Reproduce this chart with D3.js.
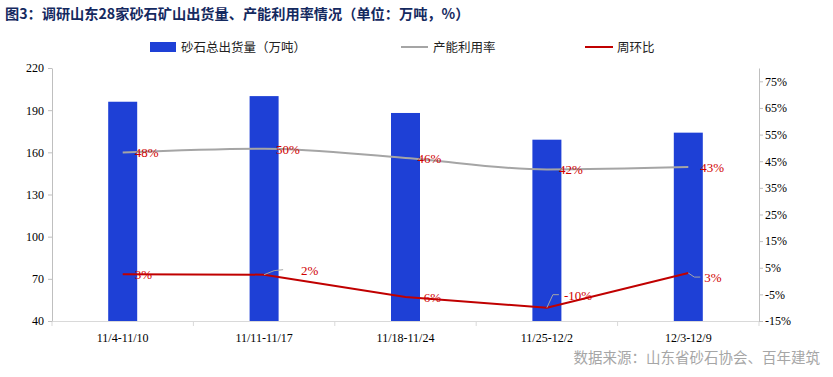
<!DOCTYPE html>
<html>
<head>
<meta charset="utf-8">
<script src="https://cdn.jsdelivr.net/npm/d3@7"></script>
<style>
  body { margin: 0; background: #fff; }
  svg { display: block; }
  .axis text { font-family: "Liberation Serif", "Times New Roman", serif; font-size: 12px; fill: #000; }
</style>
</head>
<body>
<div id="chart"></div>
<script>
// Data
const weeks = ['11/4-11/10', '11/11-11/17', '11/18-11/24', '11/25-12/2', '12/3-12/9'];
const shipments = [196, 200, 188, 169, 174];          // 万吨
const utilisation = [0.483, 0.497, 0.462, 0.419, 0.428];
const weekOnWeek = [0.026, 0.024, -0.06, -0.10, 0.03];
const leftTicks = [40, 70, 100, 130, 160, 190, 220];
const rightTicks = [-0.15, -0.05, 0.05, 0.15, 0.25, 0.35, 0.45, 0.55, 0.65, 0.75];

const width = 833;
const height = 377;
const margin = { left: 52, right: 759, top: 68, bottom: 321 };

const colors = {
  bar: '#1E40D6',
  util: '#A5A5A5',
  wow: '#C00000',
  label: '#D00000',
  axis: '#BFBFBF',
  grid: '#D9D9D9'
};

// plain hyphen for negatives, like the original
const locale = d3.formatLocale({ decimal: '.', thousands: ',', grouping: [3], currency: ['', ''], minus: '-' });
const pct = locale.format('.0%');

const svg = d3
  .select('#chart')
  .append('svg')
  .attr('width', width)
  .attr('height', height);

// Title
svg
  .append('text')
  .attr('x', 5)
  .attr('y', 19)
  .attr('font-family', '"Noto Sans CJK SC", sans-serif')
  .attr('font-weight', 'bold')
  .attr('font-size', 14.2)
  .attr('fill', '#14295F')
  .text('图3：调研山东28家砂石矿山出货量、产能利用率情况（单位：万吨，%）');

// Scales
const x = d3.scaleBand().domain(weeks).range([margin.left, margin.right]);
const yL = d3.scaleLinear().domain([40, 220]).range([margin.bottom, margin.top]);
const yR = d3.scaleLinear().domain([-0.15, 0.8]).range([margin.bottom, margin.top]);
const cx = (d) => x(d) + x.bandwidth() / 2;

// X axis
const xAxis = svg
  .append('g')
  .attr('class', 'axis')
  .attr('transform', `translate(0,${margin.bottom})`)
  .call(d3.axisBottom(x).tickSize(0).tickPadding(12));
xAxis.select('.domain').attr('stroke', colors.grid);
xAxis
  .selectAll('.sep')
  .data(d3.range(weeks.length + 1))
  .join('line')
  .attr('class', 'sep')
  .attr('x1', (i) => margin.left + i * x.step())
  .attr('x2', (i) => margin.left + i * x.step())
  .attr('y1', 0)
  .attr('y2', 5)
  .attr('stroke', colors.grid);

// Left axis
const yAxisL = svg
  .append('g')
  .attr('class', 'axis')
  .attr('transform', `translate(${margin.left},0)`)
  .call(d3.axisLeft(yL).tickValues(leftTicks).tickSize(4).tickPadding(4).tickSizeOuter(0));
yAxisL.selectAll('.domain, .tick line').attr('stroke', colors.axis);

// Right axis
const yAxisR = svg
  .append('g')
  .attr('class', 'axis')
  .attr('transform', `translate(${margin.right},0)`)
  .call(
    d3
      .axisRight(yR)
      .tickValues(rightTicks)
      .tickFormat(pct)
      .tickSize(4)
      .tickPadding(2)
      .tickSizeOuter(0)
  );
yAxisR.selectAll('.domain, .tick line').attr('stroke', colors.axis);

// Bars
svg
  .append('g')
  .selectAll('rect')
  .data(shipments)
  .join('rect')
  .attr('x', (d, i) => cx(weeks[i]) - 14.5)
  .attr('width', 29)
  .attr('y', (d) => yL(d))
  .attr('height', (d) => yL(40) - yL(d))
  .attr('fill', colors.bar);

// Capacity utilisation line (slightly smoothed)
svg
  .append('path')
  .datum(utilisation)
  .attr(
    'd',
    d3
      .line()
      .x((d, i) => cx(weeks[i]))
      .y((d) => yR(d))
      .curve(d3.curveMonotoneX)
  )
  .attr('fill', 'none')
  .attr('stroke', colors.util)
  .attr('stroke-width', 2);

// Week-on-week line
svg
  .append('path')
  .datum(weekOnWeek)
  .attr(
    'd',
    d3
      .line()
      .x((d, i) => cx(weeks[i]))
      .y((d) => yR(d))
  )
  .attr('fill', 'none')
  .attr('stroke', colors.wow)
  .attr('stroke-width', 2);

// Data labels
svg
  .append('g')
  .selectAll('text')
  .data(utilisation)
  .join('text')
  .attr('x', (d, i) => cx(weeks[i]) + 12)
  .attr('y', (d) => yR(d) + 5)
  .attr('font-family', '"Liberation Serif", serif')
  .attr('font-size', 13)
  .attr('fill', colors.label)
  .text(pct);

// label offsets for the week-on-week series (moved labels get a leader line)
const wowLabelShift = [
  { dx: 12, dy: 0 },
  { dx: 37, dy: -5, leader: [[10, -4], [19, -5]] },
  { dx: 14, dy: 0 },
  { dx: 17, dy: -13, leader: [[6, -13], [12, -13]] },
  { dx: 16, dy: 4, leader: [[6, 4], [12, 4]] }
];

const wowPoints = weekOnWeek.map((d, i) => ({ value: d, week: weeks[i], shift: wowLabelShift[i] }));

svg
  .append('g')
  .selectAll('path')
  .data(wowPoints.filter((p) => p.shift.leader))
  .join('path')
  .attr('d', (p) => {
    const px = cx(p.week);
    const py = yR(p.value);
    const [a, b] = p.shift.leader;
    return `M${px},${py}L${px + a[0]},${py + a[1]}L${px + b[0]},${py + b[1]}`;
  })
  .attr('fill', 'none')
  .attr('stroke', '#A6A6A6')
  .attr('stroke-width', 1);

svg
  .append('g')
  .selectAll('text')
  .data(wowPoints)
  .join('text')
  .attr('x', (p) => cx(p.week) + p.shift.dx)
  .attr('y', (p) => yR(p.value) + p.shift.dy + 5)
  .attr('font-family', '"Liberation Serif", serif')
  .attr('font-size', 13)
  .attr('fill', colors.label)
  .text((p) => pct(p.value));

// Legend
const legend = svg
  .append('g')
  .attr('font-family', '"Noto Sans CJK SC", sans-serif')
  .attr('font-size', 12.5)
  .attr('fill', '#222');

legend.append('rect').attr('x', 150).attr('y', 42).attr('width', 26).attr('height', 10).attr('fill', colors.bar);
legend.append('text').attr('x', 181).attr('y', 52).text('砂石总出货量（万吨）');

legend.append('line').attr('x1', 401).attr('x2', 428).attr('y1', 47).attr('y2', 47).attr('stroke', colors.util).attr('stroke-width', 2);
legend.append('text').attr('x', 433).attr('y', 52).text('产能利用率');

legend.append('line').attr('x1', 585).attr('x2', 613).attr('y1', 47).attr('y2', 47).attr('stroke', colors.wow).attr('stroke-width', 2);
legend.append('text').attr('x', 617).attr('y', 52).text('周环比');

// Source
svg
  .append('text')
  .attr('x', 820)
  .attr('y', 363)
  .attr('text-anchor', 'end')
  .attr('font-family', '"Noto Sans CJK SC", sans-serif')
  .attr('font-size', 14.5)
  .attr('fill', '#A6A6A6')
  .text('数据来源：山东省砂石协会、百年建筑');
</script>
</body>
</html>
